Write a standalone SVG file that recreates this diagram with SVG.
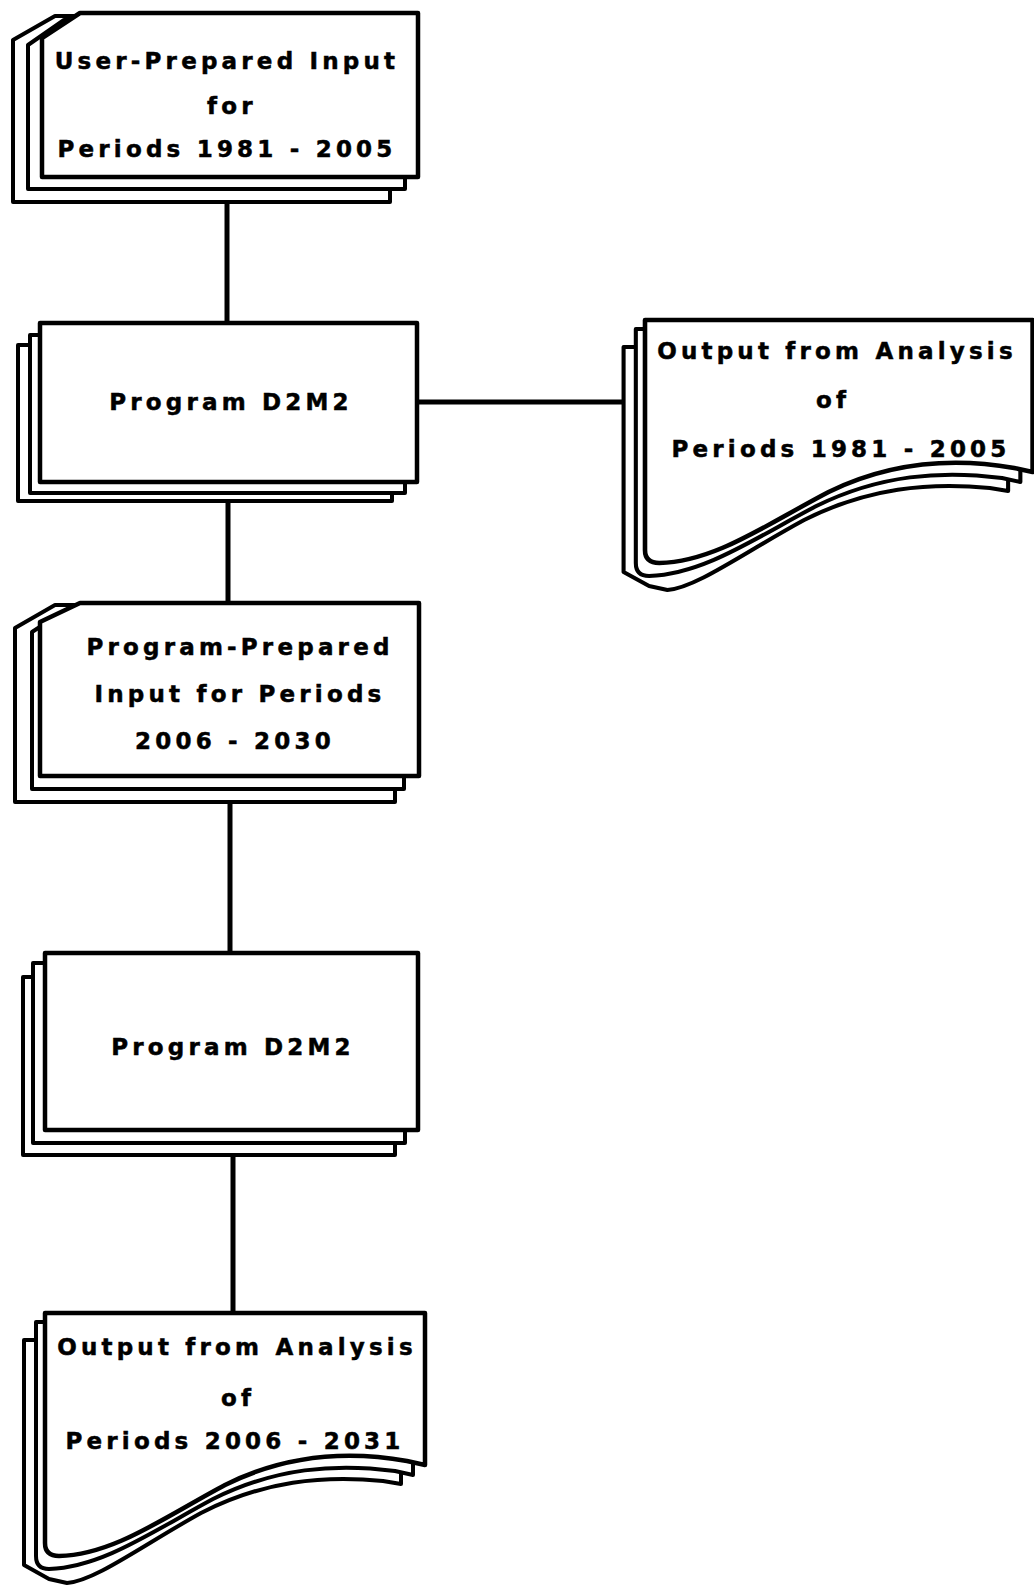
<svg xmlns="http://www.w3.org/2000/svg" width="1034" height="1587" viewBox="0 0 1034 1587">
  <style>
    .sheet { fill: #ffffff; stroke: #000000; stroke-width: 4.5; stroke-linejoin: round; stroke-linecap: round; }
    .sheet-back { fill: #ffffff; stroke: #000000; stroke-width: 4; stroke-linejoin: round; stroke-linecap: round; }
    .wire { fill: none; stroke: #000000; stroke-width: 5; stroke-linecap: butt; }
    .label { font-family: "DejaVu Sans", "Liberation Sans", Arial, sans-serif; font-weight: bold; font-size: 23px; letter-spacing: 4.2px; fill: #000000; stroke: #000000; stroke-width: 0.5; text-anchor: middle; }
  </style>
  <defs>
    <!-- printed-output document stack, local origin at front sheet top-left -->
    <path id="doc-back" d="M-21,27 H356 V171 L338,168 C278,162 218,168 156,200 C98,232 50,268 22,270 L4,266 L-21,252 Z"/>
    <path id="doc-mid" d="M-9,9 H368 V162 L350,158 C290,150 230,155 168,186 C108,218 58,254 4,256 Q-9,256 -9,243 Z"/>
    <path id="doc-front" d="M0,0 H380 V152 L362,148 C300,137 240,142 180,172 C118,205 68,242 14,243 Q0,243 0,230 Z"/>
  </defs>

  <rect x="0" y="0" width="1034" height="1587" fill="#ffffff"/>

  <!-- connectors -->
  <g id="connectors">
    <path class="wire" d="M227,200 V323"/>
    <path class="wire" d="M228,500 V603"/>
    <path class="wire" d="M230,802 V953"/>
    <path class="wire" d="M233,1155 V1313"/>
    <path class="wire" d="M417,402 H624"/>
  </g>

  <!-- punched-card input deck, first pass -->
  <g id="user-input">
    <path class="sheet-back" d="M13,40 L55,16 H390 V202 H13 Z"/>
    <path class="sheet-back" d="M28,45 L64,20 H405 V189 H28 Z"/>
    <path class="sheet" d="M42,38 L80,13 H418 V177 H42 Z"/>
    <text class="label" x="227" y="69">User-Prepared Input</text>
    <text class="label" x="232" y="114">for</text>
    <text class="label" x="227" y="157">Periods 1981 - 2005</text>
  </g>

  <!-- program run, first pass -->
  <g id="program-1">
    <rect class="sheet-back" x="18" y="345" width="374" height="156"/>
    <rect class="sheet-back" x="30" y="335" width="375" height="158"/>
    <rect class="sheet" x="40" y="323" width="377" height="159"/>
    <text class="label" x="231" y="410">Program D2M2</text>
  </g>

  <!-- printed output, first pass -->
  <g id="output-1" transform="translate(645,320)">
    <g transform="scale(1.02,1)">
      <use href="#doc-back" class="sheet-back"/>
      <use href="#doc-mid" class="sheet-back"/>
      <use href="#doc-front" class="sheet"/>
    </g>
    <text class="label" x="192" y="39">Output from Analysis</text>
    <text class="label" x="188" y="88">of</text>
    <text class="label" x="196" y="137">Periods 1981 - 2005</text>
  </g>

  <!-- punched-card input deck, second pass -->
  <g id="program-input">
    <path class="sheet-back" d="M15,628 L55,605 H395 V802 H15 Z"/>
    <path class="sheet-back" d="M32,632 L66,610 H404 V789 H32 Z"/>
    <path class="sheet" d="M40,622 L80,603 H419 V776 H40 Z"/>
    <text class="label" x="240" y="655">Program-Prepared</text>
    <text class="label" x="240" y="702">Input for Periods</text>
    <text class="label" x="235" y="749">2006 - 2030</text>
  </g>

  <!-- program run, second pass -->
  <g id="program-2">
    <rect class="sheet-back" x="23" y="977" width="372" height="178"/>
    <rect class="sheet-back" x="33" y="963" width="372" height="180"/>
    <rect class="sheet" x="45" y="953" width="373" height="177"/>
    <text class="label" x="233" y="1055">Program D2M2</text>
  </g>

  <!-- printed output, second pass -->
  <g id="output-2" transform="translate(45,1313)">
    <use href="#doc-back" class="sheet-back"/>
    <use href="#doc-mid" class="sheet-back"/>
    <use href="#doc-front" class="sheet"/>
    <text class="label" x="192" y="42">Output from Analysis</text>
    <text class="label" x="193" y="93">of</text>
    <text class="label" x="190" y="136">Periods 2006 - 2031</text>
  </g>
</svg>
